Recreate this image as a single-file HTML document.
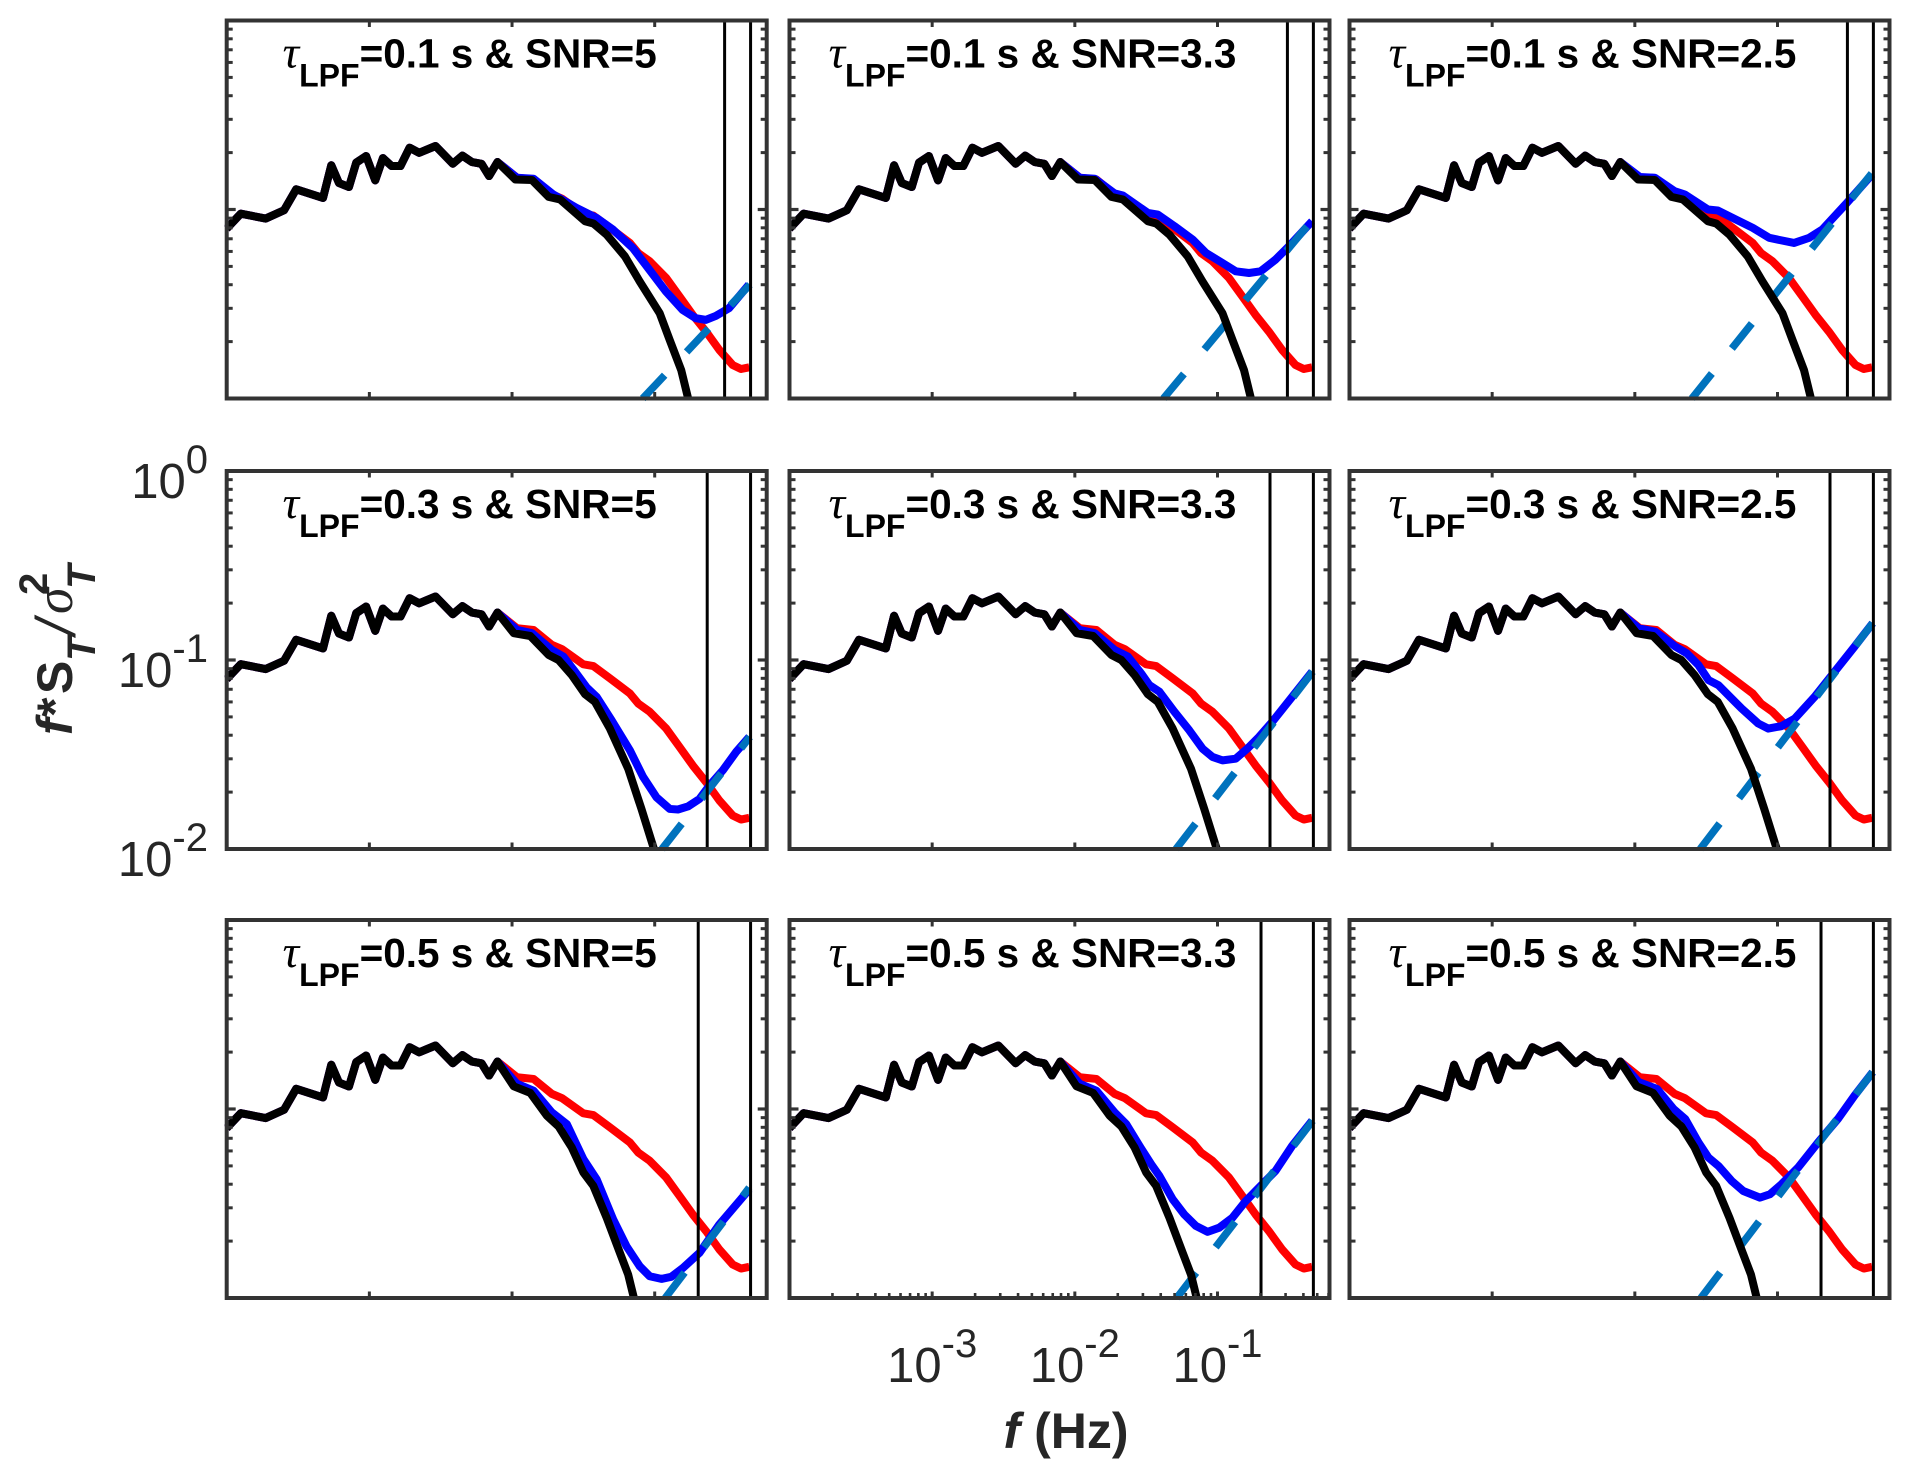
<!DOCTYPE html>
<html lang="en">
<head>
<meta charset="utf-8">
<title>Normalized temperature spectra</title>
<style>
html,body{margin:0;padding:0;background:#fff;}
svg{display:block;font-family:"Liberation Sans",Arial,sans-serif;}
</style>
</head>
<body>
<svg id="chart" xmlns="http://www.w3.org/2000/svg" width="1909" height="1478" viewBox="0 0 1909 1478">
<rect x="0" y="0" width="1909" height="1478" fill="#fff"/>
<g transform="translate(72,735) rotate(-90)" fill="#262626" font-weight="bold" font-size="50">
<text x="0" y="0" font-style="italic">f</text>
<text x="18" y="0">*</text>
<text x="41" y="0">S</text>
<text x="74" y="23" font-style="italic" font-size="40">T</text>
<text x="100" y="3" font-style="italic" font-size="56" font-weight="normal">/</text>
<text x="121" y="0" font-style="italic" font-family="'Liberation Serif',serif" font-weight="normal" font-size="54">σ</text>
<text x="146" y="23" font-style="italic" font-size="40">T</text>
<text x="140" y="-25" font-size="40">2</text>
</g>
<text x="1066" y="1448" text-anchor="middle" fill="#262626" font-weight="bold" font-size="50"><tspan font-style="italic">f</tspan> (Hz)</text>
</svg>
<script>
// Shared low-frequency part of every curve (log10 of f in Hz, log10 of f*S/sigma^2)
const baseLogF = [-4.000,-3.901,-3.727,-3.598,-3.513,-3.325,-3.267,-3.213,-3.143,-3.092,-3.023,-2.959,-2.905,-2.844,-2.782,-2.718,-2.651,-2.536,-2.415,-2.348,-2.281,-2.214,-2.161,-2.102];
const baseLogS = [-1.101,-1.022,-1.048,-1.004,-0.893,-0.939,-0.766,-0.860,-0.881,-0.752,-0.717,-0.846,-0.728,-0.770,-0.770,-0.673,-0.700,-0.664,-0.758,-0.715,-0.749,-0.758,-0.823,-0.749];

// Red curve: same in all panels
const redLogF = [-1.965,-1.849,-1.721,-1.651,-1.500,-1.430,-1.314,-1.174,-1.116,-1.035,-0.919,-0.826,-0.733,-0.640,-0.547,-0.453,-0.395,-0.337];
const redLogS = [-0.832,-0.841,-0.920,-0.942,-1.023,-1.032,-1.097,-1.177,-1.230,-1.274,-1.363,-1.460,-1.558,-1.646,-1.743,-1.823,-1.844,-1.835];

// Black curves: one per LPF time constant (row)
const blackLogF = [
  [-1.977,-1.860,-1.744,-1.663,-1.488,-1.430,-1.337,-1.209,-1.105,-0.965,-0.895,-0.814,-0.767],
  [-1.988,-1.872,-1.744,-1.674,-1.581,-1.488,-1.419,-1.314,-1.186,-1.093,-1.007],
  [-1.988,-1.872,-1.756,-1.674,-1.581,-1.500,-1.430,-1.337,-1.244,-1.186,-1.147]
];
const blackLogS = [
  [-0.841,-0.844,-0.933,-0.947,-1.062,-1.074,-1.133,-1.248,-1.381,-1.549,-1.690,-1.850,-1.996],
  [-0.858,-0.873,-0.973,-1.000,-1.080,-1.181,-1.221,-1.363,-1.575,-1.788,-1.996],
  [-0.880,-0.915,-1.035,-1.092,-1.204,-1.336,-1.407,-1.575,-1.761,-1.876,-1.996]
];

// Blue curves: one per panel [row][column]
const blueLogF = [
  [
    [-1.965,-1.849,-1.712,-1.549,-1.409,-1.293,-1.153,-1.037,-0.921,-0.805,-0.712,-0.642,-0.572,-0.479,-0.340],
    [-1.965,-1.860,-1.721,-1.663,-1.488,-1.419,-1.302,-1.174,-1.081,-0.965,-0.872,-0.779,-0.698,-0.593,-0.500,-0.337],
    [-1.965,-1.860,-1.721,-1.651,-1.488,-1.419,-1.291,-1.174,-1.058,-0.884,-0.779,-0.686,-0.523,-0.337]
  ],
  [
    [-1.965,-1.860,-1.721,-1.640,-1.558,-1.477,-1.407,-1.302,-1.174,-1.081,-0.988,-0.895,-0.837,-0.767,-0.686,-0.616,-0.523,-0.430,-0.337],
    [-1.965,-1.860,-1.721,-1.628,-1.535,-1.477,-1.407,-1.302,-1.198,-1.105,-1.035,-0.965,-0.872,-0.791,-0.709,-0.616,-0.477,-0.337],
    [-1.972,-1.856,-1.716,-1.635,-1.554,-1.484,-1.414,-1.321,-1.251,-1.135,-1.065,-0.972,-0.879,-0.740,-0.600,-0.460,-0.333]
  ],
  [
    [-1.965,-1.849,-1.721,-1.616,-1.500,-1.407,-1.291,-1.198,-1.105,-1.035,-0.953,-0.884,-0.802,-0.686,-0.547,-0.407,-0.337],
    [-1.965,-1.849,-1.721,-1.640,-1.547,-1.465,-1.407,-1.314,-1.233,-1.151,-1.070,-0.988,-0.895,-0.802,-0.709,-0.593,-0.477,-0.337],
    [-1.972,-1.844,-1.728,-1.647,-1.554,-1.484,-1.414,-1.321,-1.240,-1.123,-1.053,-0.972,-0.856,-0.716,-0.577,-0.460,-0.333]
  ]
];
const blueLogS = [
  [
    [-0.832,-0.837,-0.920,-0.991,-1.044,-1.106,-1.204,-1.319,-1.434,-1.531,-1.575,-1.584,-1.563,-1.522,-1.398],
    [-0.832,-0.837,-0.915,-0.926,-1.018,-1.027,-1.088,-1.159,-1.230,-1.283,-1.327,-1.336,-1.327,-1.265,-1.195,-1.062],
    [-0.828,-0.832,-0.903,-0.920,-1.000,-1.005,-1.053,-1.097,-1.150,-1.177,-1.150,-1.106,-0.973,-0.814]
  ],
  [
    [-0.841,-0.858,-0.947,-0.982,-1.062,-1.145,-1.195,-1.319,-1.478,-1.619,-1.726,-1.788,-1.791,-1.775,-1.735,-1.664,-1.584,-1.487,-1.407],
    [-0.841,-0.858,-0.947,-0.982,-1.071,-1.133,-1.168,-1.274,-1.372,-1.469,-1.513,-1.531,-1.522,-1.469,-1.407,-1.327,-1.195,-1.062],
    [-0.832,-0.850,-0.929,-0.965,-1.027,-1.106,-1.133,-1.204,-1.257,-1.336,-1.363,-1.350,-1.310,-1.195,-1.062,-0.929,-0.805]
  ],
  [
    [-0.867,-0.903,-1.018,-1.080,-1.265,-1.372,-1.584,-1.726,-1.832,-1.885,-1.899,-1.888,-1.841,-1.761,-1.611,-1.487,-1.425],
    [-0.867,-0.903,-1.018,-1.080,-1.195,-1.292,-1.354,-1.478,-1.558,-1.619,-1.650,-1.628,-1.575,-1.487,-1.416,-1.327,-1.195,-1.062],
    [-0.858,-0.894,-1.000,-1.053,-1.177,-1.257,-1.301,-1.381,-1.434,-1.469,-1.451,-1.398,-1.310,-1.177,-1.053,-0.929,-0.805]
  ]
];

// Dashed noise lines: two end values per panel [row][column]
const noiseLogF = [
  [[-1.084,-0.333],[-1.379,-0.333],[-1.600,-0.335]],
  [[-0.949,-0.333],[-1.291,-0.333],[-1.542,-0.333]],
  [[-0.926,-0.337],[-1.286,-0.333],[-1.537,-0.333]]
];
const noiseLogS = [
  [[-2.000,-1.398],[-2.000,-1.053],[-2.000,-0.805]],
  [[-2.000,-1.407],[-2.000,-1.062],[-2.000,-0.805]],
  [[-2.000,-1.416],[-2.000,-1.062],[-2.000,-0.805]]
];

// Vertical reference frequencies
const cutoffLogF = [-0.510,-0.632,-0.695];
const nyquistLogF = -0.328;

// Panel titles
const titleText = [
  ["=0.1 s & SNR=5","=0.1 s & SNR=3.3","=0.1 s & SNR=2.5"],
  ["=0.3 s & SNR=5","=0.3 s & SNR=3.3","=0.3 s & SNR=2.5"],
  ["=0.5 s & SNR=5","=0.5 s & SNR=3.3","=0.5 s & SNR=2.5"]
];

// Ticks
const xTickExponents = [-3,-2,-1];
const xTickLabels = ["-3","-2","-1"];
const yTickExponents = [0,-1,-2];
const yTickLabels = ["0","-1","-2"];
const minorFactors = [2,3,4,5,6,7,8,9];

// Layout
const NS = "http://www.w3.org/2000/svg";
const panelLeft = [226.7,789.5,1349.5];
const panelTop = [20.5,471,920];
const panelW = 540;
const panelH = 378;
const X_MIN = -4, X_MAX = -0.215, Y_MAX = 0, Y_MIN = -2;
const svg = document.getElementById("chart");

function xAxis(col, logF){ return panelLeft[col] + (logF - X_MIN) / (X_MAX - X_MIN) * panelW; }
function yAxis(row, logS){ return panelTop[row] + (Y_MAX - logS) / (Y_MAX - Y_MIN) * panelH; }
function make(tag, attrs, parent){
  const e = document.createElementNS(NS, tag);
  for (const k in attrs) e.setAttribute(k, attrs[k]);
  if (parent) parent.appendChild(e);
  return e;
}
function pathFrom(row, col, fs, ss){
  return fs.map((f, i) => (i ? "L" : "M") + xAxis(col, f).toFixed(2) + " " + yAxis(row, ss[i]).toFixed(2)).join("");
}
function curve(parent, row, col, fs, ss, color, width){
  return make("path", {d: pathFrom(row, col, fs, ss), fill: "none", stroke: color, "stroke-width": width, "stroke-linejoin": "round"}, parent);
}
function tick(parent, x1, y1, x2, y2, w){
  return make("line", {x1: x1, y1: y1, x2: x2, y2: y2, stroke: "#333", "stroke-width": w}, parent);
}

for (let r = 0; r < 3; r++) {
  for (let c = 0; c < 3; c++) {
    const L = panelLeft[c], T = panelTop[r], R = L + panelW, B = T + panelH;
    const g = make("g", {}, svg);
    
    

    const clip = make("clipPath", {id: "clip" + r + c}, g);
    make("rect", {x: L - 2, y: T - 2, width: panelW + 4, height: panelH + 5}, clip);
    const plot = make("g", {"clip-path": "url(#clip" + r + c + ")"}, g);

    const red = curve(plot, r, c, baseLogF.concat(redLogF), baseLogS.concat(redLogS), "#f00", 8);
    
    

    const blue = curve(plot, r, c, baseLogF.concat(blueLogF[r][c]), baseLogS.concat(blueLogS[r][c]), "#00f", 8);
    
    

    const noise = curve(plot, r, c, noiseLogF[r][c], noiseLogS[r][c], "#0072bd", 7.5);
    noise.setAttribute("stroke-dasharray", "32 32");
    
    

    const black = curve(plot, r, c, baseLogF.concat(blackLogF[r]), baseLogS.concat(blackLogS[r]), "#000", 8);
    
    

    const v1 = make("line", {x1: xAxis(c, cutoffLogF[r]), x2: xAxis(c, cutoffLogF[r]), y1: T, y2: B, stroke: "#000", "stroke-width": 3}, g);
    
    

    const v2 = make("line", {x1: xAxis(c, nyquistLogF), x2: xAxis(c, nyquistLogF), y1: T, y2: B, stroke: "#000", "stroke-width": 3}, g);
    
    

    // y ticks both sides
    const yt = make("g", {}, g);
    
    
    tick(yt, L, yAxis(r, -1), L + 9, yAxis(r, -1), 3.2);
    tick(yt, R, yAxis(r, -1), R - 9, yAxis(r, -1), 3.2);
    [-1, -2].forEach(e => {
      minorFactors.forEach(m => {
        const y = yAxis(r, e + Math.log10(m));
        tick(yt, L, y, L + 6, y, 3);
        tick(yt, R, y, R - 6, y, 3);
      });
    });

    // x ticks top and bottom
    const xt = make("g", {}, g);
    
    
    const minorX = (r === 2 && c === 1);
    xTickExponents.forEach(e => {
      const x = xAxis(c, e);
      tick(xt, x, B, x, B - 6.5, 3);
      tick(xt, x, T, x, T + 6.5, 3);
    });
    if (minorX) {
      [-4,-3,-2,-1].forEach(e => {
        minorFactors.forEach(m => {
          const lf = e + Math.log10(m);
          if (lf > X_MAX) return;
          const x = xAxis(c, lf);
          tick(xt, x, B, x, B - 5, 2.6);
        });
      });
    }

    const box = make("rect", {x: L, y: T, width: panelW, height: panelH, fill: "none", stroke: "#333", "stroke-width": 4}, g);
    
    

    // title
    const t = make("text", {x: L + 243, y: T + 47, "text-anchor": "middle", "font-weight": "bold", "font-size": 40.5, fill: "#000"}, g);
    
    
    const tau = make("tspan", {"font-style": "italic", "font-weight": "normal", "font-family": "'Liberation Serif',serif", "font-size": 46}, t);
    tau.textContent = "τ";
    const sub = make("tspan", {dy: 19, "font-size": 32}, t);
    sub.textContent = "LPF";
    const rest = make("tspan", {dy: -19}, t);
    rest.textContent = titleText[r][c];
  }
}

// y tick labels (middle row, left)
yTickExponents.forEach((e, i) => {
  const t = make("text", {x: 208, y: yAxis(1, e) + 27, "text-anchor": "end", fill: "#262626", "font-size": 49}, svg);
  
  
  t.appendChild(document.createTextNode("10"));
  const s = make("tspan", {dy: -25, "font-size": 40}, t);
  s.textContent = yTickLabels[i];
});

// x tick labels (bottom row, middle)
xTickExponents.forEach((e, i) => {
  const t = make("text", {x: xAxis(1, e), y: 1382, "text-anchor": "middle", fill: "#262626", "font-size": 49}, svg);
  
  
  t.appendChild(document.createTextNode("10"));
  const s = make("tspan", {dy: -25, "font-size": 40}, t);
  s.textContent = xTickLabels[i];
});
</script>
</body>
</html>
